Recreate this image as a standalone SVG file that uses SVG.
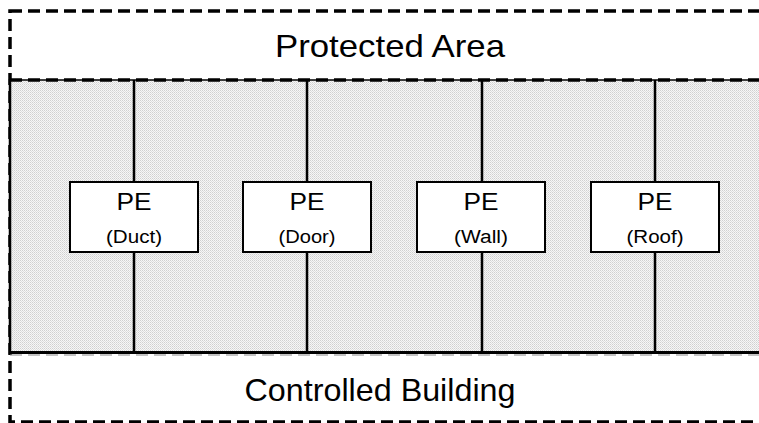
<svg xmlns="http://www.w3.org/2000/svg" width="759" height="423" viewBox="0 0 759 423">
<defs>
<pattern id="stip" width="2" height="2" patternUnits="userSpaceOnUse">
<rect width="2" height="2" fill="#f6f6f6"/>
<rect x="0" y="0" width="1" height="1" fill="#d0d0d0"/>
<rect x="1" y="1" width="1" height="1" fill="#dedede"/>
</pattern>
</defs>
<style>
.dash{fill:none;stroke:#000;stroke-width:3.5;stroke-dasharray:12 6}
.ln{stroke:#000;stroke-width:2.5;fill:none}
.box{fill:#fff;stroke:#000;stroke-width:2}
.t{font-family:"Liberation Sans",Arial,sans-serif;fill:#000;text-anchor:middle}
.big{font-size:32px}
.pe{font-size:24px}
.sub{font-size:18px}
</style>
<g id="area">
<rect x="10" y="11" width="760" height="411" class="dash"/>
<rect x="10" y="80" width="760" height="273" fill="url(#stip)"/>
<line x1="10" y1="79" x2="10" y2="354" class="ln" stroke-width="3"/>
<line x1="10" y1="80" x2="770" y2="80" stroke="#000" stroke-width="1.5"/>
<line x1="10" y1="80" x2="770" y2="80" class="dash"/>
<line x1="10" y1="352.5" x2="770" y2="352.5" stroke="#000" stroke-width="3"/>
<line x1="10" y1="355" x2="770" y2="355" stroke="#888" stroke-width="1" stroke-dasharray="12 6"/>
<text class="t big" x="390" y="57" textLength="230" lengthAdjust="spacingAndGlyphs">Protected Area</text>
<text class="t big" x="380" y="401" textLength="271" lengthAdjust="spacingAndGlyphs">Controlled Building</text>
</g>
<g id="connectors">
<line x1="134" y1="80" x2="134" y2="353" class="ln"/>
<line x1="307" y1="80" x2="307" y2="353" class="ln"/>
<line x1="482" y1="80" x2="482" y2="353" class="ln"/>
<line x1="655" y1="80" x2="655" y2="353" class="ln"/>
</g>
<g id="pe-duct">
<rect x="70" y="182" width="128" height="70" class="box"/>
<text class="t pe" x="134" y="210" textLength="35" lengthAdjust="spacingAndGlyphs">PE</text>
<text class="t sub" x="134" y="243" textLength="56" lengthAdjust="spacingAndGlyphs">(Duct)</text>
</g>
<g id="pe-door">
<rect x="243" y="182" width="128" height="70" class="box"/>
<text class="t pe" x="307" y="210" textLength="35" lengthAdjust="spacingAndGlyphs">PE</text>
<text class="t sub" x="307" y="243" textLength="57" lengthAdjust="spacingAndGlyphs">(Door)</text>
</g>
<g id="pe-wall">
<rect x="417" y="182" width="128" height="70" class="box"/>
<text class="t pe" x="481" y="210" textLength="35" lengthAdjust="spacingAndGlyphs">PE</text>
<text class="t sub" x="481" y="243" textLength="54" lengthAdjust="spacingAndGlyphs">(Wall)</text>
</g>
<g id="pe-roof">
<rect x="591" y="182" width="128" height="70" class="box"/>
<text class="t pe" x="655" y="210" textLength="35" lengthAdjust="spacingAndGlyphs">PE</text>
<text class="t sub" x="655" y="243" textLength="57" lengthAdjust="spacingAndGlyphs">(Roof)</text>
</g>
</svg>
